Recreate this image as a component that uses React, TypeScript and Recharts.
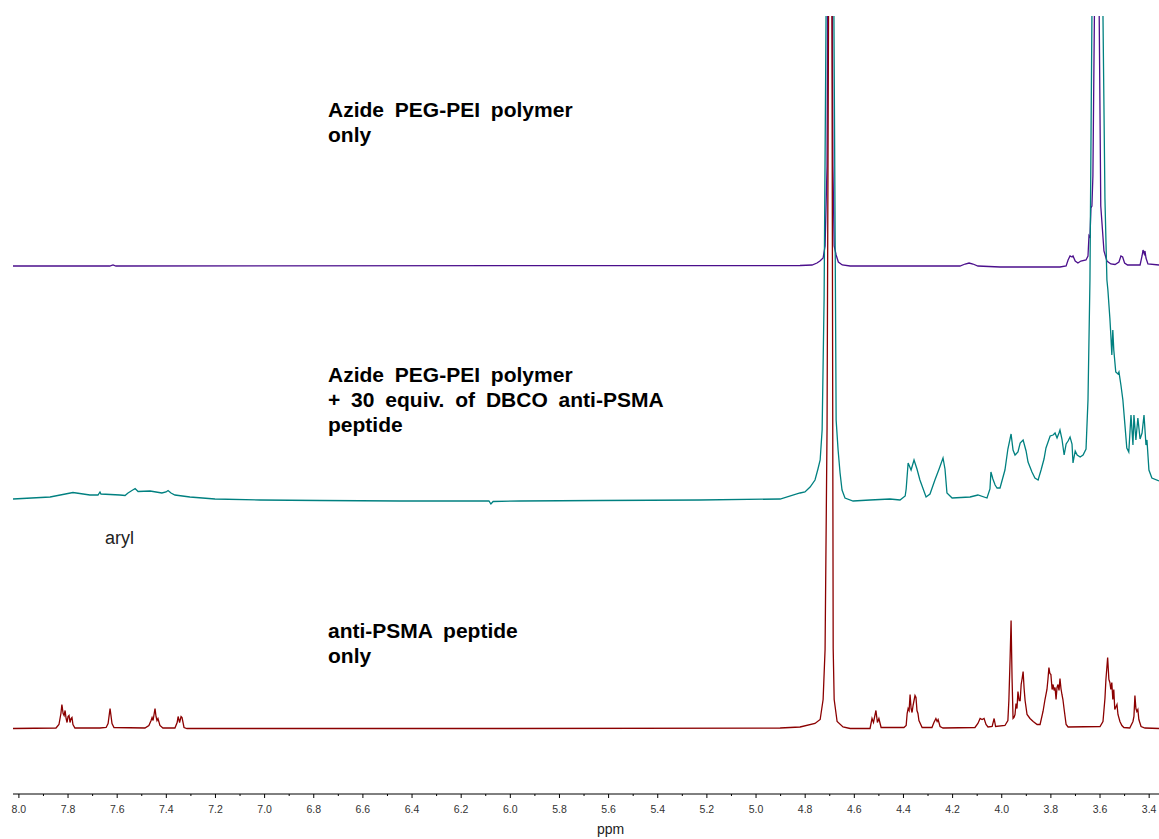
import { LineChart, Line, XAxis, YAxis } from 'recharts';

// chemical shift (ppm) vs. relative intensity above each trace's baseline
const PEG_ONLY: [number, number][] = [
  [8.024, 0], [7.63, 0], [7.617, 1], [7.605, 0], [4.821, 0.5], [4.772, 1], [4.752, 3],
  [4.74, 5], [4.727, 8], [4.719, 20], [4.711, 100], [4.706, 400], [4.698, 5000],
  [4.692, 400], [4.687, 100], [4.682, 20], [4.674, 11], [4.665, 4], [4.649, 1], [4.617, 0],
  [4.414, 0], [4.17, 0], [4.149, 2], [4.133, 3], [4.117, 2], [4.097, 0], [4.007, -1],
  [3.763, -1], [3.738, 0], [3.73, 6], [3.722, 10], [3.714, 9], [3.71, 10], [3.701, 5],
  [3.69, 3], [3.678, 5], [3.657, 6], [3.649, 10], [3.645, 30], [3.641, 28], [3.637, 58],
  [3.633, 60], [3.629, 90], [3.621, 300], [3.612, 4000], [3.605, 300], [3.597, 60],
  [3.584, 15], [3.572, 5], [3.556, 2], [3.539, 1.5], [3.523, 4], [3.515, 10], [3.508, 9],
  [3.5, 3], [3.488, 1], [3.437, 1], [3.429, 10], [3.425, 16], [3.42, 12], [3.417, 15],
  [3.413, 8], [3.405, 2], [3.36, 1],
];

const PEG_PLUS_PEPTIDE: [number, number][] = [
  [8.024, 0], [7.873, 2], [7.78, 6.5], [7.711, 4], [7.678, 4], [7.67, 7], [7.666, 5],
  [7.589, 4], [7.568, 3.5], [7.556, 6], [7.527, 10.5], [7.515, 7.5], [7.466, 8], [7.418, 6],
  [7.401, 7], [7.393, 8.5], [7.381, 6], [7.365, 4], [7.304, 2], [7.202, 0], [7.019, -1],
  [6.775, -1.5], [6.449, -2], [6.087, -2], [6.079, -5], [6.07, -2.5], [5.961, -2],
  [5.635, -1.5], [5.228, -1], [4.902, 0], [4.821, 6], [4.801, 7], [4.78, 12], [4.76, 19],
  [4.748, 30], [4.739, 39], [4.731, 69], [4.723, 200], [4.715, 483], [4.698, 5000],
  [4.683, 483], [4.674, 79], [4.666, 49], [4.658, 26], [4.65, 9], [4.638, 1], [4.605, -2],
  [4.536, -1], [4.455, 0], [4.414, -1], [4.393, 3], [4.389, 10], [4.381, 36], [4.369, 29],
  [4.357, 39], [4.345, 30], [4.333, 19], [4.308, 2], [4.292, 5], [4.272, 19], [4.255, 30],
  [4.239, 41], [4.231, 30], [4.223, 6], [4.202, 1], [4.129, 2], [4.097, 4], [4.06, 1],
  [4.048, 10], [4.044, 27], [4.036, 20], [4.027, 14], [4.019, 11], [4.007, 11], [3.987, 29],
  [3.975, 50], [3.962, 65], [3.954, 49], [3.946, 44], [3.934, 47], [3.925, 56], [3.913, 59],
  [3.901, 48], [3.893, 37], [3.877, 27], [3.865, 21], [3.852, 19], [3.84, 29], [3.828, 40],
  [3.82, 51], [3.803, 63], [3.791, 64], [3.783, 66], [3.775, 61], [3.767, 66], [3.763, 69],
  [3.755, 60], [3.746, 44], [3.738, 55], [3.73, 58], [3.722, 62], [3.714, 55], [3.71, 36],
  [3.701, 48], [3.693, 44], [3.681, 42], [3.669, 44], [3.657, 50], [3.649, 99], [3.641, 219],
  [3.633, 483], [3.61, 3000], [3.588, 483], [3.58, 300], [3.572, 219], [3.568, 209],
  [3.56, 181], [3.556, 164], [3.552, 144], [3.548, 169], [3.544, 149], [3.536, 127],
  [3.527, 125], [3.523, 127], [3.515, 114], [3.507, 99], [3.499, 75], [3.491, 51],
  [3.483, 47], [3.474, 84], [3.466, 54], [3.462, 84], [3.454, 59], [3.446, 81], [3.437, 60],
  [3.429, 66], [3.421, 84], [3.413, 54], [3.409, 59], [3.401, 29], [3.389, 21], [3.36, 18],
];

const PEPTIDE_ONLY: [number, number][] = [
  [8.024, 0], [7.849, 0.5], [7.837, 4], [7.829, 15], [7.825, 24], [7.82, 15], [7.816, 13],
  [7.812, 18], [7.808, 10], [7.804, 6], [7.8, 12], [7.796, 13], [7.792, 6], [7.788, 10],
  [7.784, 11], [7.78, 4], [7.772, 0.5], [7.67, 0.5], [7.645, 1], [7.637, 5], [7.629, 20],
  [7.621, 5], [7.613, 1], [7.487, 0.5], [7.471, 3], [7.462, 8], [7.458, 11], [7.454, 8],
  [7.446, 20], [7.442, 12], [7.438, 8], [7.434, 10], [7.426, 3], [7.414, 0.5], [7.365, 0.5],
  [7.356, 6], [7.352, 12], [7.346, 6], [7.34, 12], [7.336, 11], [7.328, 1], [7.316, 0],
  [6.042, 0], [4.902, 0.5], [4.821, 1.5], [4.76, 5], [4.739, 9], [4.727, 29], [4.719, 79],
  [4.711, 300], [4.705, 713], [4.698, 5000], [4.691, 713], [4.686, 80], [4.682, 29],
  [4.67, 7], [4.646, 1.5], [4.617, 0], [4.536, 0], [4.528, 10], [4.522, 6], [4.512, 18],
  [4.506, 6], [4.5, 10], [4.491, 1], [4.398, 1], [4.389, 3], [4.385, 15], [4.381, 20],
  [4.377, 18], [4.373, 34], [4.369, 20], [4.365, 16], [4.361, 23], [4.357, 28], [4.353, 33],
  [4.349, 31], [4.345, 18], [4.341, 15], [4.337, 8], [4.324, 1], [4.284, 1], [4.276, 6],
  [4.268, 10], [4.263, 7], [4.259, 9], [4.251, 2], [4.239, 0.5], [4.109, 1], [4.097, 5],
  [4.088, 10], [4.08, 9], [4.072, 10], [4.064, 4], [4.056, 1.5], [4.039, 2], [4.031, 10],
  [4.025, 2], [3.987, 3], [3.975, 8], [3.971, 28], [3.966, 70], [3.962, 108], [3.958, 50],
  [3.954, 10], [3.95, 11], [3.946, 14], [3.942, 25], [3.938, 20], [3.934, 37], [3.929, 28],
  [3.925, 28], [3.921, 44], [3.917, 50], [3.913, 57], [3.909, 40], [3.905, 28], [3.897, 14],
  [3.885, 10], [3.872, 7], [3.856, 4], [3.844, 4], [3.832, 17], [3.824, 29], [3.816, 39],
  [3.812, 49], [3.808, 61], [3.804, 55], [3.8, 54], [3.795, 39], [3.791, 44], [3.787, 38],
  [3.783, 41], [3.779, 29], [3.775, 41], [3.771, 44], [3.767, 38], [3.763, 50], [3.759, 40],
  [3.755, 34], [3.751, 29], [3.746, 19], [3.738, 4], [3.73, 1.5], [3.6, 2], [3.588, 7],
  [3.58, 30], [3.576, 49], [3.569, 71], [3.564, 49], [3.56, 46], [3.556, 39], [3.552, 46],
  [3.548, 29], [3.544, 39], [3.54, 19], [3.531, 24], [3.527, 14], [3.519, 7], [3.511, 3],
  [3.503, 1], [3.479, 0.5], [3.466, 7], [3.462, 12], [3.458, 33], [3.454, 20], [3.45, 17],
  [3.446, 19], [3.442, 9], [3.433, 2], [3.417, 0.5], [3.36, 0],
];

const PPM_TICKS = [
  8.0, 7.9, 7.8, 7.7, 7.6, 7.5, 7.4, 7.3, 7.2, 7.1, 7.0, 6.9, 6.8, 6.7, 6.6, 6.5,
  6.4, 6.3, 6.2, 6.1, 6.0, 5.9, 5.8, 5.7, 5.6, 5.5, 5.4, 5.3, 5.2, 5.1, 5.0, 4.9,
  4.8, 4.7, 4.6, 4.5, 4.4, 4.3, 4.2, 4.1, 4.0, 3.9, 3.8, 3.7, 3.6, 3.5, 3.4,
];
const PPM_LABELS = [
  '8.0', '7.8', '7.6', '7.4', '7.2', '7.0', '6.8', '6.6', '6.4', '6.2', '6.0', '5.8',
  '5.6', '5.4', '5.2', '5.0', '4.8', '4.6', '4.4', '4.2', '4.0', '3.8', '3.6', '3.4',
];

const FONT = "'Liberation Sans', Arial, sans-serif";

const rows = (pts: [number, number][]) => pts.map(([ppm, v]) => ({ ppm, v }));

function PpmTick(props: any) {
  const { x, y, payload, index } = props;
  const major = index % 2 === 0;
  return (
    <g>
      <line x1={x} x2={x} y1={y} y2={y + (major ? 4 : 2)} stroke="#000" strokeWidth={1} />
      {major && (
        <text x={x} y={y + 18.5} textAnchor="middle" fontSize={10.5} fontFamily={FONT} fill="#333">
          {PPM_LABELS[index / 2] ?? payload.value.toFixed(1)}
        </text>
      )}
    </g>
  );
}

const note = (top: number, left: number, extra: any = {}) => ({
  position: 'absolute' as const,
  top,
  left,
  fontFamily: FONT,
  fontWeight: 700,
  fontSize: 21,
  lineHeight: '25px',
  wordSpacing: 5,
  color: '#000',
  whiteSpace: 'nowrap' as const,
  ...extra,
});

export default function App() {
  return (
    <div style={{ position: 'absolute', left: 0, top: 0, width: 1159, height: 839, background: '#fff' }}>
      <LineChart width={1159} height={839} margin={{ top: 16, right: 0, left: 13, bottom: 0 }}>
        <XAxis
          dataKey="ppm"
          type="number"
          domain={[3.36, 8.024]}
          reversed
          allowDataOverflow
          ticks={PPM_TICKS}
          interval={0}
          tickSize={0}
          tickMargin={0}
          tickLine={false}
          axisLine={{ stroke: '#000', strokeWidth: 1 }}
          tick={(p: any) => <PpmTick {...p} />}
          height={45}
        />
        <YAxis yAxisId="peg" hide type="number" domain={[-528, 250]} allowDataOverflow />
        <YAxis yAxisId="mix" hide type="number" domain={[-295, 483]} allowDataOverflow />
        <YAxis yAxisId="pep" hide type="number" domain={[-65.5, 712.5]} allowDataOverflow />
        <Line
          yAxisId="peg"
          data={rows(PEG_ONLY)}
          dataKey="v"
          type="linear"
          stroke="#4B0F8C"
          strokeWidth={1.3}
          dot={false}
          isAnimationActive={false}
        />
        <Line
          yAxisId="mix"
          data={rows(PEG_PLUS_PEPTIDE)}
          dataKey="v"
          type="linear"
          stroke="#008080"
          strokeWidth={1.3}
          dot={false}
          isAnimationActive={false}
        />
        <Line
          yAxisId="pep"
          data={rows(PEPTIDE_ONLY)}
          dataKey="v"
          type="linear"
          stroke="#8B0000"
          strokeWidth={1.3}
          dot={false}
          isAnimationActive={false}
        />
      </LineChart>
      <div style={note(97, 328)}>
        Azide PEG-PEI polymer
        <br />
        only
      </div>
      <div style={note(362, 328)}>
        Azide PEG-PEI polymer
        <br />+ 30 equiv. of DBCO anti-PSMA
        <br />
        peptide
      </div>
      <div style={note(618, 328)}>
        anti-PSMA peptide
        <br />
        only
      </div>
      <div style={note(529, 105, { fontWeight: 400, fontSize: 18, lineHeight: '18px', wordSpacing: 0, color: '#222' })}>aryl</div>
      <div style={note(821, 597, { fontWeight: 400, fontSize: 14, lineHeight: '16px', wordSpacing: 0, color: '#222' })}>ppm</div>
    </div>
  );
}
